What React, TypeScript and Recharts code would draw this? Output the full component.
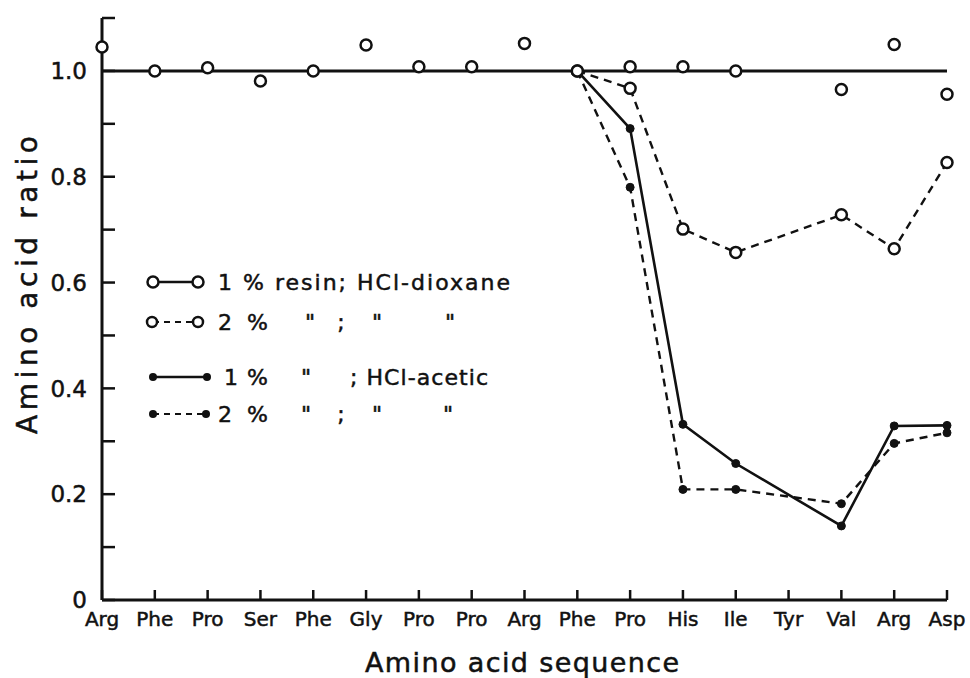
import React from 'react';
import {
  LineChart,
  Line,
  XAxis,
  YAxis,
  ReferenceLine,
} from 'recharts';

const FONT = '"DejaVu Sans", "Liberation Sans", sans-serif';
const INK = '#111';

// amino acid sequence along the x axis
const residues = ['Arg', 'Phe', 'Pro', 'Ser', 'Phe', 'Gly', 'Pro', 'Pro', 'Arg', 'Phe', 'Pro', 'His', 'Ile', 'Tyr', 'Val', 'Arg', 'Asp'];

const dioxane1 = [1.045, 1.0, 1.006, 0.981, 1.0, 1.049, 1.008, 1.008, 1.052, 1.0, 1.008, 1.008, 1.0, null, 0.965, 1.05, 0.956];
const dioxane2 = [null, null, null, null, null, null, null, null, null, 1.0, 0.967, 0.701, 0.657, null, 0.728, 0.664, 0.827];
const acetic1 = [null, null, null, null, null, null, null, null, null, 1.0, 0.891, 0.332, 0.258, null, 0.14, 0.329, 0.33];
const acetic2 = [null, null, null, null, null, null, null, null, null, 1.0, 0.78, 0.209, 0.209, null, 0.182, 0.296, 0.316];

const theoretical = 1.0;

const yTicks = [0, 0.1, 0.2, 0.3, 0.4, 0.5, 0.6, 0.7, 0.8, 0.9, 1.0, 1.1];
const yLabels: Record<string, string> = { '0': '0', '0.2': '0.2', '0.4': '0.4', '0.6': '0.6', '0.8': '0.8', '1': '1.0' };
const xTicks = residues.map((_, i) => i);

const data = residues.map((name, i) => ({
  idx: i,
  name,
  dioxane1: dioxane1[i],
  dioxane2: dioxane2[i],
  acetic1: acetic1[i],
  acetic2: acetic2[i],
}));

const openDot = { r: 5.5, fill: '#fff', stroke: INK, strokeWidth: 2.5, strokeDasharray: 'none' };
const filledDot = { r: 4, fill: INK, stroke: INK, strokeWidth: 1, strokeDasharray: 'none' };

// slight outline to thicken the lettering like the inked original
const heavy = { stroke: INK, strokeWidth: 0.5 };

function Legend() {
  const txt = { fontFamily: FONT, fontSize: 22, fill: INK, ...heavy };
  return (
    <svg width={970} height={678} style={{ position: 'absolute', left: 0, top: 0, pointerEvents: 'none' }}>
      {/* row 1 */}
      <line x1={153} y1={282} x2={198} y2={282} stroke={INK} strokeWidth={2.5} />
      <circle cx={153} cy={282} r={5.5} fill="#fff" stroke={INK} strokeWidth={2.5} />
      <circle cx={198} cy={282} r={5.5} fill="#fff" stroke={INK} strokeWidth={2.5} />
      <text x={218} y={290} textLength={292} lengthAdjust="spacing" {...txt}>1 % resin; HCl-dioxane</text>
      {/* row 2 */}
      <line x1={153} y1={322} x2={198} y2={322} stroke={INK} strokeWidth={2} strokeDasharray="6 5" />
      <circle cx={152} cy={322} r={5} fill="#fff" stroke={INK} strokeWidth={2.5} />
      <circle cx={198} cy={322} r={5} fill="#fff" stroke={INK} strokeWidth={2.5} />
      <text x={218} y={330} textLength={50} lengthAdjust="spacing" {...txt}>2 %</text>
      <text x={310} y={330} textAnchor="middle" {...txt}>"</text>
      <text x={341} y={330} textAnchor="middle" {...txt}>;</text>
      <text x={377} y={330} textAnchor="middle" {...txt}>"</text>
      <text x={450} y={330} textAnchor="middle" {...txt}>"</text>
      {/* row 3 */}
      <line x1={153} y1={377} x2={207} y2={377} stroke={INK} strokeWidth={2.5} />
      <circle cx={153} cy={377} r={4} fill={INK} />
      <circle cx={207} cy={377} r={4} fill={INK} />
      <text x={224} y={385} textLength={44} lengthAdjust="spacing" {...txt}>1 %</text>
      <text x={306} y={385} textAnchor="middle" {...txt}>"</text>
      <text x={350} y={385} textLength={138} lengthAdjust="spacing" {...txt}>; HCl-acetic</text>
      {/* row 4 */}
      <line x1={153} y1={414} x2={206} y2={414} stroke={INK} strokeWidth={2} strokeDasharray="6 5" />
      <circle cx={153} cy={414} r={4} fill={INK} />
      <circle cx={206} cy={414} r={4} fill={INK} />
      <text x={218} y={422} textLength={50} lengthAdjust="spacing" {...txt}>2 %</text>
      <text x={306} y={422} textAnchor="middle" {...txt}>"</text>
      <text x={341} y={422} textAnchor="middle" {...txt}>;</text>
      <text x={377} y={422} textAnchor="middle" {...txt}>"</text>
      <text x={448} y={422} textAnchor="middle" {...txt}>"</text>
      {/* axis titles */}
      <text
        x={0}
        y={0}
        transform="translate(37 285) rotate(-90)"
        textAnchor="middle"
        textLength={298}
        lengthAdjust="spacing"
        fontFamily={FONT}
        fontSize={28}
        fill={INK}
        {...heavy}
      >
        Amino acid ratio
      </text>
      <text x={522} y={672} textAnchor="middle" textLength={314} lengthAdjust="spacing" fontFamily={FONT} fontSize={27} fill={INK} {...heavy}>
        Amino acid sequence
      </text>
    </svg>
  );
}

export default function App() {
  return (
    <div style={{ position: 'absolute', left: 0, top: 0, width: 970, height: 678, background: '#fff' }}>
      <LineChart width={970} height={678} data={data} margin={{ top: 18, right: 23, bottom: 48, left: 42 }}>
        <XAxis
          dataKey="idx"
          type="number"
          domain={[0, 16]}
          ticks={xTicks}
          interval={0}
          tickFormatter={(i: number) => residues[i]}
          height={30}
          tickSize={-10}
          tickMargin={22}
          axisLine={{ stroke: INK, strokeWidth: 3 }}
          tickLine={{ stroke: INK, strokeWidth: 2.5 }}
          tick={{ fontSize: 20, fill: INK, fontFamily: FONT, ...heavy }}
        />
        <YAxis
          type="number"
          domain={[0, 1.1]}
          ticks={yTicks}
          interval={0}
          tickFormatter={(v: number) => yLabels[String(Math.round(v * 10) / 10)] ?? ''}
          width={60}
          tickSize={-13}
          tickMargin={28}
          axisLine={{ stroke: INK, strokeWidth: 3 }}
          tickLine={{ stroke: INK, strokeWidth: 2.5 }}
          tick={{ fontSize: 23, fill: INK, fontFamily: FONT, ...heavy }}
        />
        <ReferenceLine y={theoretical} stroke={INK} strokeWidth={3} />
        <Line dataKey="acetic2" stroke={INK} strokeWidth={2.4} strokeDasharray="8 6" dot={filledDot} connectNulls isAnimationActive={false} />
        <Line dataKey="acetic1" stroke={INK} strokeWidth={2.6} dot={filledDot} connectNulls isAnimationActive={false} />
        <Line dataKey="dioxane2" stroke={INK} strokeWidth={2.4} strokeDasharray="8 6" dot={openDot} connectNulls isAnimationActive={false} />
        <Line dataKey="dioxane1" stroke="none" dot={openDot} isAnimationActive={false} />
      </LineChart>
      <Legend />
    </div>
  );
}
